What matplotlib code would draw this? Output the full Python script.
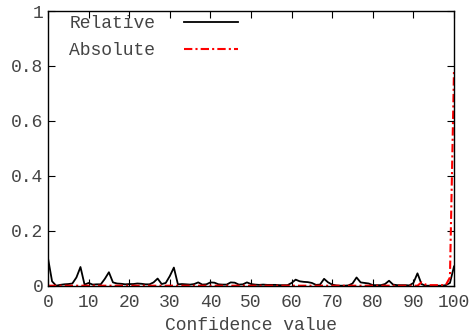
import matplotlib
matplotlib.use('Agg')
import matplotlib.pyplot as plt
import numpy as np

# confidence values 0..100
conf = list(range(0, 101))

relative = [0.100, 0.016, 0.000, 0.003, 0.005, 0.006, 0.008, 0.030, 0.068, 0.004,
            0.010, 0.004, 0.005, 0.005, 0.025, 0.049, 0.012, 0.008, 0.007, 0.005,
            0.006, 0.006, 0.008, 0.007, 0.005, 0.005, 0.012, 0.026, 0.006, 0.010,
            0.035, 0.066, 0.005, 0.006, 0.005, 0.004, 0.006, 0.012, 0.004, 0.005,
            0.012, 0.011, 0.005, 0.004, 0.004, 0.012, 0.011, 0.004, 0.005, 0.012,
            0.006, 0.004, 0.003, 0.004, 0.003, 0.003, 0.003, 0.002, 0.002, 0.002,
            0.010, 0.022, 0.016, 0.014, 0.013, 0.010, 0.003, 0.004, 0.025, 0.012,
            0.004, 0.001, 0.000, 0.000, 0.001, 0.008, 0.030, 0.012, 0.010, 0.008,
            0.002, 0.002, 0.002, 0.006, 0.018, 0.004, 0.002, 0.002, 0.002, 0.001,
            0.010, 0.045, 0.006, 0.000, 0.000, 0.000, 0.000, 0.000, 0.002, 0.010,
            0.070]

absolute = [0.0] * 92 + [0.012, 0.004, 0.002, 0.002, 0.002, 0.002, 0.003, 0.030, 0.785]

plt.rcParams['font.family'] = ['Liberation Mono', 'DejaVu Sans Mono']

fig = plt.figure(figsize=(4.69, 3.35), dpi=100)
ax = fig.add_axes([48/469, 1 - 285.7/335, (454-48)/469, (285.7-11)/335])

ax.plot(conf, relative, color='black', lw=1.3, label='Relative')
ax.plot(conf, absolute, color='red', lw=1.5, dashes=(4, 1.5, 1, 1.5), label='Absolute')

ax.set_xlim(0, 100)
ax.set_ylim(0, 1)
ax.set_xticks(np.arange(0, 101, 10))
ax.set_yticks([0, 0.2, 0.4, 0.6, 0.8, 1])
ax.set_yticklabels(['0', '0.2', '0.4', '0.6', '0.8', '1'])
ax.tick_params(direction='in', top=True, right=True, length=5, labelsize=13,
               labelcolor='#444444')
ax.tick_params(axis='x', pad=6)
ax.set_xlabel('Confidence value', fontsize=13, color='#444444', labelpad=4)
for s in ax.spines.values():
    s.set_linewidth(1.0)

ax.legend(loc='upper left', frameon=False, markerfirst=False, fontsize=13,
          handlelength=3.0, borderaxespad=0.0, labelspacing=0.55, handletextpad=1.6,
          bbox_to_anchor=(0.035, 1.012), labelcolor='#444444')

fig.savefig('out.png', dpi=100)
